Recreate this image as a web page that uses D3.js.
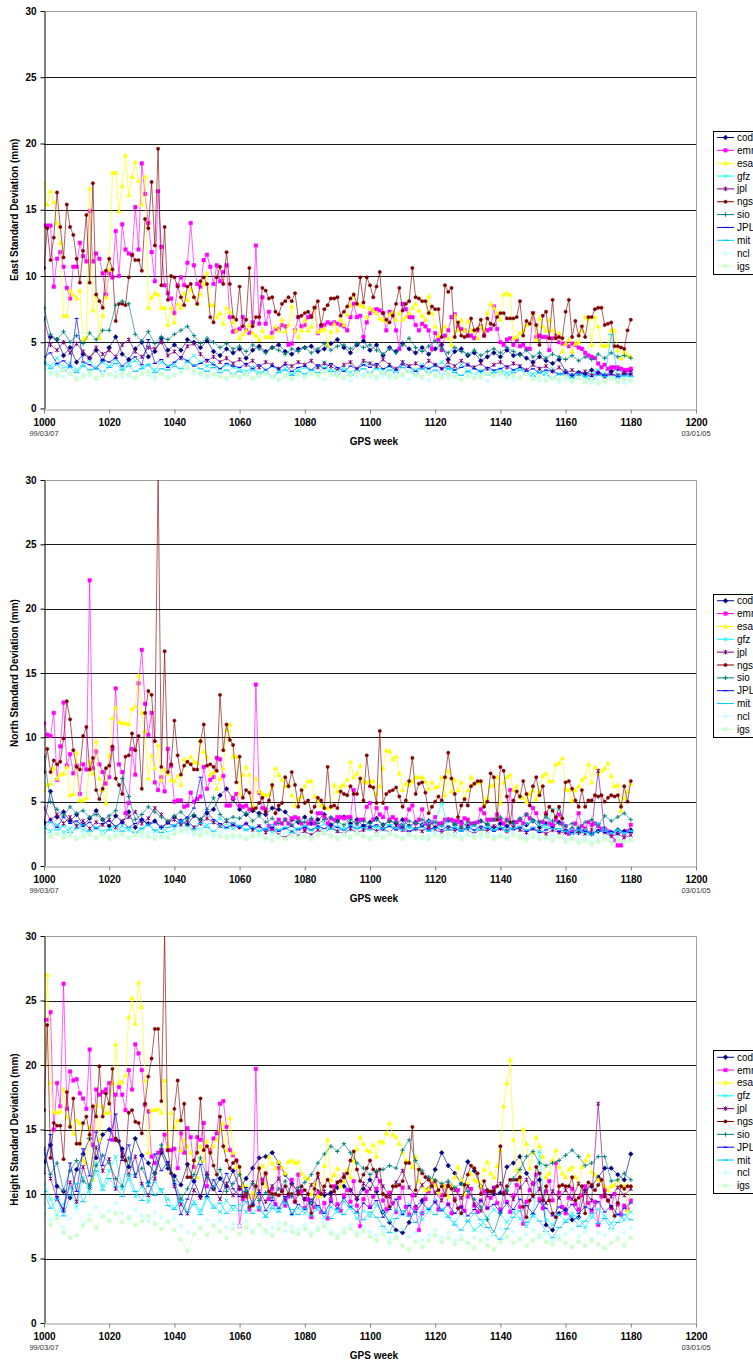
<!DOCTYPE html>
<html>
<head>
<meta charset="utf-8">
<script src="https://cdn.jsdelivr.net/npm/d3@7"></script>
<style>
  body { margin: 0; background: #fff; }
  text { font-family: "Liberation Sans", Arial, sans-serif; }
</style>
</head>
<body>
<svg id="chart" width="753" height="1360"></svg>
<script>
// series, in legend order
const seriesNames = ["cod", "emr", "esa", "gfz", "jpl", "ngs", "sio", "JPL", "mit", "ncl", "igs"];
const seriesColors = ["#000080", "#ff00ff", "#ffff00", "#00ffff", "#800080", "#800000", "#008080", "#0000ff", "#00ccff", "#ccffff", "#ccffcc"];
const seriesMarkers = ["diamond", "square", "triangle", "x", "star", "circle", "plus", "dash", "longdash", "diamond", "square"];

const yTickValues = [0, 5, 10, 15, 20, 25, 30];
const xTickValues = [1000, 1020, 1040, 1060, 1080, 1100, 1120, 1140, 1160, 1180, 1200];
const dateLabels = ["99/03/07", "03/01/05"];
const dateWeeks = [1000, 1200];
const panelTitles = ["East Standard Deviation (mm)", "North Standard Deviation (mm)", "Height Standard Deviation (mm)"];
const xTitle = "GPS week";

// weekly series cover weeks 1000..1180, the others every second week
const weeksWeekly = d3.range(1000, 1181);
const weeksBiweekly = d3.range(1000, 1181, 2);

// ---------- East ----------
const eastCod = [3.3,5.4,5.2,4.0,4.6,3.5,4.1,3.8,4.4,3.6, 4.6,5.4,4.1,3.7,4.5,5.0,3.9,4.3,5.3,4.4, 4.8,4.4,5.2,5.0,4.6,5.1,4.3,4.0,4.5,4.2, 4.5,3.8,4.4,4.7,4.3,4.6,4.8,4.3,4.1,4.5, 4.6,4.7,4.3,4.5,4.9,5.2,4.6,4.2,4.8,5.1, 4.4,4.8,4.0,4.6,4.3,4.9,4.5,4.2,4.6,4.1, 4.5,4.8,3.7,4.3,4.5,4.0,4.2,3.6,3.9,4.2, 3.9,4.4,4.0,4.1,3.8,3.5,3.9,3.6,3.4,3.7, 2.8,2.5,2.7,2.6,2.9,2.7,2.5,2.8,3.0,2.6, 2.9];
const eastEmr = [13.8,13.8,13.8,9.2,11.3,11.8,10.7,9.1,8.3,10.7, 10.7,12.5,11.5,11.1,14.9,11.1,11.7,11.3,10.2,8.6, 10.2,9.9,13.4,10.0,13.9,12.0,11.7,11.6,15.2,12.0, 18.5,16.2,14.0,11.8,9.6,16.4,12.2,9.3,8.7,8.3, 7.2,9.3,9.9,9.3,11.0,14.0,10.8,9.4,9.2,11.2, 11.6,10.7,9.4,10.8,9.6,10.3,10.8,6.9,5.8,5.9, 6.0,6.9,5.9,5.7,6.5,12.3,6.4,
  8.4,6.4,7.3,5.7,6.0,6.0,6.3,6.2,4.8,4.9, 5.9,6.9,6.2,6.3,6.9,7.0,7.6,5.7,6.2,6.3, 6.5,6.4,6.5,6.4,6.3,6.2,5.9,6.9,7.9,6.9, 7.0,5.4,6.5,7.2,7.4,7.5,7.4,7.2,5.9,7.3, 7.2,5.9,4.5,7.9,7.5,6.9,6.9,6.3,5.9,6.4, 6.2,5.9,4.5,5.7,5.2,4.4,5.5,5.9,6.9,7.1, 6.2,6.0,5.9,5.5,
  5.5,5.3,5.9,6.2,5.5,5.9,6.0,7.7,6.0,5.0, 4.8,5.2,5.3,4.8,5.2,4.7,4.8,4.5,4.5,7.2, 5.4,5.5,5.4,5.4,4.4,5.3,5.5,5.0,4.9,4.9, 4.7,4.9,4.8,4.6,4.5,4.2,4.0,3.9,3.8,3.4, 3.1,3.3,3.0,3.1,3.1,3.1,3.0,2.9,2.9,3.0];
const eastEsa = [17.0,15.4,16.4,15.6,14.0,12.5,7.0,7.0,8.9,8.6, 8.3,8.9,5.2,5.3,16.6,7.4,8.6,5.3,7.0,8.4, 10.5,17.8,17.8,14.9,16.8,19.1,16.1,17.5,18.6,17.2, 15.4,17.5,7.6,8.4,8.7,8.6,7.6,7.6,6.3,7.6, 6.5,7.9,7.6,8.7,8.2,9.0,8.4,7.9,8.6,9.4, 10.2,7.8,7.8,6.9,7.2,6.4,7.6,7.3,6.5,5.9,
  5.3,5.6,5.9,6.3,5.7,5.5,5.2,5.9,5.4,5.4, 5.4,6.2,5.9,6.7,5.8,6.3,7.7,5.9,5.4,5.9, 6.7,5.9,6.2,7.6,5.8,5.9,6.0,4.8,5.8,6.4, 5.9,6.7,6.3,7.1,7.8,8.6,7.9,7.8,7.7,6.9, 7.6,7.4,7.2,6.8,6.7,6.6,7.1,7.3,6.7,7.2, 6.7,6.9,7.2,7.6,7.9,7.4,7.0,6.7,8.5,7.2, 6.2,5.5,5.9,6.2,5.3,4.8,7.0,5.9,6.7,5.9, 6.6,
  5.9,
  5.9,5.3,6.2,5.9,7.2,7.9,7.6,7.2,6.7,8.6, 8.7,8.6,5.3,5.4,5.7,5.9,6.3,6.4,7.2,5.2, 6.8,6.2,5.9,6.7,5.9,5.3,5.7,4.3,4.9,5.2, 4.3,4.9,5.0,5.9,6.9,6.8,4.8,6.9,6.2,4.8, 4.7,4.8,5.9,5.9,4.4,3.8,4.3,4.0,3.9];
const eastGfz = [3.6,3.2,3.8,3.0,3.4,2.9,3.3,3.6,3.1,3.5, 3.2,3.7,3.0,3.4,3.6,3.1,3.3,2.9,3.5,3.2, 3.4,3.8,3.6,4.0,3.5,3.2,3.4,3.0,3.3,3.1, 3.0,2.8,3.1,2.7,2.9,3.2,2.8,3.0,2.6,2.9, 3.1,2.8,3.2,3.5,3.0,2.8,3.1,2.7,3.0,3.3, 3.4,3.1,2.9,3.2,2.8,3.5,3.2,2.9,3.3,3.0, 3.2,3.5,3.0,2.9,3.3,2.8,3.1,2.7,3.0,2.8, 3.0,2.7,2.9,3.1,2.8,2.6,2.9,2.7,3.0,2.6, 2.8,2.5,2.7,2.4,2.6,2.9,2.5,2.3,2.6,2.4, 2.5];
const eastJpl = [6.8,4.8,4.4,5.0,4.2,4.9,4.3,3.8,4.6,4.1, 4.4,3.9,4.8,5.2,4.3,3.9,4.6,4.5,5.0,4.0, 4.3,3.8,4.7,4.9,4.1,3.6,3.9,3.5,3.8,3.4, 3.7,3.3,3.6,3.1,3.5,3.3,3.0,3.4,3.2,3.5, 3.3,3.6,3.1,3.4,3.2,2.9,3.3,3.5,3.0,3.6, 3.4,3.2,3.7,3.3,3.0,3.5,3.2,3.4,3.1,3.6, 3.3,3.0,3.5,3.2,3.6,3.3,3.1,3.4,3.0,3.3, 3.5,3.1,3.4,3.2,2.9,3.3,3.0,3.2,2.8,3.1, 2.7,2.9,2.6,2.8,2.5,2.7,2.4,2.6,2.5,2.7, 2.6];
const eastNgs = [10.6,13.6,11.2,12.9,16.3,13.7,11.4,15.4,13.7,13.1, 11.3,9.5,11.9,14.6,9.5,17.0,8.6,8.1,7.6,10.4, 11.3,10.5,6.6,7.9,7.9,7.8,9.9,11.6,11.2,11.2, 10.4,14.3,13.6,17.1,12.3,19.6,
  9.3,13.7,8.2,10.0,9.9,9.2,8.4,7.8,9.2,9.4, 8.4,7.9,9.6,9.9,9.4,6.9,6.5,9.9,10.7,9.4, 11.8,9.4,6.9,6.7,
  9.2,6.2,6.7,10.6,6.2,6.9,6.9,9.1,8.9,8.3, 8.4,7.3,7.1,7.9,8.1,8.4,8.1,8.7,6.9,7.0, 7.2,7.3,6.9,7.6,8.1,6.3,7.5,7.8,8.3,8.3, 8.4,7.0,7.3,7.7,8.3,8.6,7.9,9.9,8.0,9.9, 9.3,8.4,9.2,10.3,7.2,6.7,6.5,7.0,7.9,9.1, 7.4,7.9,8.1,10.6,8.4,8.3,8.1,8.1,7.2,7.7, 7.5,7.5,5.4,9.3,8.8,9.1,5.4,6.5,5.5,5.4, 5.5,
  6.8,5.9,6.0,6.7,5.5,6.8,6.4,6.3,6.9,7.2, 7.2,6.8,6.8,6.8,6.9,8.1,5.5,6.6,6.4,7.2, 6.3,4.8,7.0,7.3,5.3,8.2,5.3,5.4,5.3,7.3, 8.2,5.4,6.6,5.5,6.2,5.4,6.9,6.9,7.5,7.6, 7.6,6.3,6.4,6.5,4.7,4.7,4.6,4.5,5.9,6.7];
const eastSio = [7.6,5.6,5.2,5.8,5.0,5.5,4.9,5.7,5.2,5.9, 5.9,7.8,8.1,7.9,5.6,5.1,5.8,4.9,5.4,5.2, 5.6,5.9,6.2,5.5,4.9,5.3,5.0,4.6,4.9,4.5, 4.7,4.3,4.8,4.5,4.2,4.6,4.4,4.1,4.5,4.3, 4.6,4.2,4.5,4.9,4.4,4.7,4.8,4.5,4.9,4.6, 4.8,4.4,4.1,4.5,4.2,4.8,5.3,4.6,4.3,4.7, 5.1,4.5,4.2,4.6,4.3,4.1,4.4,4.0,4.3,4.5, 4.2,4.6,4.3,4.0,4.4,3.9,4.2,3.8,4.1,3.9, 3.7,4.0,3.6,3.9,3.7,4.1,3.8,4.2,3.9,4.0, 3.8];
const eastJPL = [3.9,4.2,3.4,3.6,3.2,6.8,3.5,3.3,3.0,3.7, 3.5,3.8,3.2,3.6,3.9,3.3,5.2,3.4,3.7,3.1, 3.5,3.9,3.6,3.2,3.4,3.7,3.3,3.0,3.4,3.2, 3.1,3.4,3.0,3.3,2.9,3.2,3.0,3.3,2.8,3.1, 3.2,2.9,3.3,3.0,3.4,3.1,2.8,3.2,3.0,3.3, 3.1,3.4,3.0,3.2,2.9,3.3,3.1,2.8,3.2,3.0, 3.3,3.0,3.2,2.9,3.1,3.3,3.0,2.8,3.1,2.9, 3.0,3.2,2.9,3.1,2.8,3.0,2.7,2.9,2.8,2.6, 2.7,2.5,2.8,2.6,2.4,2.7,2.5,2.6,2.4,2.5, 2.6];
const eastMit = [3.5,3.0,3.3,2.8,3.1,2.7,3.2,2.9,3.0,2.8, 3.1,3.4,2.9,3.2,2.8,3.0,3.3,2.7,3.0,2.9, 3.2,3.0,3.5,3.3,3.0,2.8,3.1,2.7,2.9,2.6, 2.8,2.5,2.9,2.6,2.8,2.4,2.7,2.9,2.5,2.8, 2.6,2.9,2.7,3.1,2.8,2.6,2.9,2.5,2.8,3.0, 2.7,3.0,2.6,2.9,2.7,3.1,2.8,2.6,3.0,2.7, 2.9,2.6,3.0,2.7,2.5,2.8,2.6,2.9,2.5,2.7, 2.8,2.5,2.7,2.9,2.6,2.4,2.7,2.5,2.3,2.6, 2.5,2.3,2.6,2.4,2.2,2.5,2.4,5.6,2.3,2.5, 2.4];
const eastNcl = [3.0,2.6,2.8,2.4,2.7,2.3,2.6,2.5,2.2,2.7, 2.5,2.8,2.4,2.6,2.3,2.7,2.5,2.2,2.6,2.4, 2.6,2.8,3.0,2.7,2.5,2.3,2.6,2.4,2.2,2.5, 2.3,2.5,2.2,2.4,2.6,2.3,2.1,2.4,2.2,2.5, 2.3,2.6,2.4,2.2,2.5,2.7,2.3,2.1,2.4,2.6, 2.4,2.2,2.5,2.3,2.6,2.4,2.2,2.5,2.3,2.1, 2.4,2.6,2.3,2.5,2.2,2.4,2.6,2.3,2.1,2.4, 2.5,2.3,2.2,2.4,2.6,2.3,2.1,2.4,2.2,2.0, 2.2,2.0,2.3,2.1,1.9,2.2,2.0,2.3,2.1,1.9, 2.1];
const eastIgs = [3.2,2.8,2.5,2.9,2.6,2.2,2.4,2.7,2.3,2.5, 2.6,2.4,2.7,2.5,2.3,2.6,2.8,2.4,2.6,2.3, 2.5,2.8,3.1,2.9,2.7,2.5,2.6,2.4,2.3,2.5, 2.4,2.6,2.3,2.5,2.7,2.4,2.2,2.5,2.3,2.6, 2.4,2.7,2.5,2.8,2.6,2.4,2.3,2.5,2.7,2.4, 2.6,2.4,2.7,2.5,2.3,2.6,2.8,2.5,2.4,2.6, 2.5,2.3,2.6,2.4,2.2,2.5,2.3,2.4,2.6,2.5, 2.7,2.4,2.5,2.3,2.6,2.2,2.4,2.1,2.3,2.2, 2.4,2.1,2.3,2.0,2.2,1.9,2.1,2.3,2.0,2.2, 2.1];

// ---------- North ----------
const northCod = [3.4,5.8,3.8,4.2,3.5,4.0,3.2,3.7,4.3,3.6, 3.1,3.9,3.4,4.2,3.0,3.6,3.3,3.5,3.0,3.4, 3.8,3.5,3.2,3.9,3.6,4.1,4.4,5.5,6.0,5.2, 4.4,4.0,4.3,4.1,4.0,4.5,4.4,4.2,3.6,3.4, 3.8,3.3,3.6,4.0,3.2,3.5,3.8,3.3,3.6,3.1, 3.4,3.7,3.2,3.5,3.3,3.6,3.1,3.4,3.2,3.5, 3.0,3.3,3.6,3.2,3.4,3.1,3.3,3.5,3.2,3.0, 3.3,3.1,3.4,3.6,3.2,3.5,3.0,3.3,3.1,3.4, 2.7,2.9,2.6,2.8,2.5,2.7,2.9,2.6,2.8,2.7, 2.8];
const northEmr = [11.1,10.2,10.1,11.9,6.7,9.3,12.7,7.8,8.7,7.2, 7.8,5.6,7.9,7.5,22.2,7.6,8.9,7.9,7.3,6.4, 6.9,9.1,13.8,7.9,7.3,4.1,4.9,9.1,7.1,14.2, 16.8,12.6,10.2,11.9,6.5,5.9,6.9,5.8,9.1,7.8, 5.0,5.1,5.1,4.6,4.7,5.7,5.0,5.2,5.4,7.7, 6.0,6.7,6.9,8.4,8.3,7.0,4.7,4.7,5.3,5.6, 4.7,4.6,4.7,4.4,4.5,14.1,5.7,4.5,4.4,
  3.1,2.9,3.3,3.6,3.3,3.6,3.3,3.7,3.8,3.7, 3.3,2.9,3.3,3.6,3.3,4.1,4.1,3.8,3.3,3.7, 3.6,3.8,3.8,3.7,3.8,3.8,5.9,3.3,3.6,3.6, 4.6,4.9,3.6,4.5,4.0,3.8,4.5,3.6,3.8,3.6, 3.1,3.2,3.6,4.4,4.7,3.3,3.6,4.4,3.3,3.1, 3.4,3.8, 3.3,3.3,3.6,3.6,3.6,3.5,3.5,3.3,3.7,3.6, 3.3,3.3,3.4,4.4,4.1,3.6,3.6,3.6,4.0,3.6, 3.3,3.6,5.9,3.2,3.4,3.6,3.3,4.0,3.7,4.5, 4.1,3.4,3.4,4.1,3.3,3.2,3.6,4.0,3.3,3.1, 2.5,2.8,3.3,4.1,3.1,2.9,3.4,3.2,3.3,3.1, 2.9,2.8,2.7,2.5,2.0,1.6,1.6,2.5,2.7,3.2];
const northEsa = [5.9,6.3,6.4,7.6,6.8,7.1,7.2,7.7,5.5,5.6, 8.8,5.1,5.1,5.3,8.1,7.2,9.7,6.8,5.9,4.9, 8.6,11.5,12.3,11.2,11.1,11.1,11.0,12.2,12.4,14.8, 11.9,10.5,6.8,8.6,7.6,9.4,6.7,7.5,7.2,6.7, 6.6,7.0,6.3,8.3,8.1,8.5,8.1,8.0,9.8,8.9, 8.5,7.1,7.3,6.0,6.8,7.6,10.6,11.0,8.5,8.5, 5.6,7.1,7.7,7.1,4.7,6.8,5.8,5.6,5.5,
  5.6,6.2,7.6,7.1,6.7,6.2,6.3,5.5,4.7,5.2, 5.4,6.2,6.6,6.6,5.4,5.1,4.7,4.6,4.5,4.6, 6.3,5.8,6.2,6.3,6.7,8.1,6.9,7.2,7.8,6.6, 6.5,6.6,6.6,5.6,6.2,7.6,9.0,8.9,8.3,8.5, 7.2,5.9,6.4,6.3,6.6,6.9,6.9,6.9,6.6,6.0, 6.5,6.1, 6.2,6.9,5.5,7.4,5.8,6.7,5.9,6.5,5.3,5.9, 6.9,6.4,6.5,6.6,4.9,5.3,6.2,6.3,6.9,4.9, 6.5,6.9,7.1,5.9,6.2,5.4,5.3,5.0,5.6,5.9, 5.2,5.8,7.0,7.2,6.6,6.6,7.9,8.0,8.4,6.0, 5.9,5.1,5.9,6.2,6.7,6.9,7.9,6.5,7.7,7.2, 7.4,7.6,8.0,7.0,6.2,6.3,4.3,5.3,5.8,6.4];
const northGfz = [3.0,2.7,3.2,2.6,2.9,3.3,2.8,2.5,3.0,2.7, 2.9,2.6,3.1,2.8,2.5,2.9,3.2,2.7,3.0,2.6, 2.9,3.3,3.6,3.0,2.8,3.2,3.4,3.7,3.3,2.9, 3.1,2.8,3.0,2.7,2.9,2.6,2.8,3.0,2.7,2.9, 3.1,2.8,3.0,3.3,2.9,2.7,3.0,2.8,3.1,2.9, 3.2,3.0,2.8,3.1,2.9,3.3,3.0,2.8,3.2,3.5, 3.4,4.9,2.9,3.1,2.8,3.0,2.7,2.9,3.1,2.8, 3.0,2.8,3.1,2.9,3.3,3.5,3.2,2.9,4.4,4.5, 2.7,2.9,2.6,2.8,2.5,2.7,2.9,2.6,2.8,2.5, 2.7];
const northJpl = [4.5,3.6,4.0,3.3,3.8,3.1,3.5,2.9,3.4,3.2, 3.6,3.0,3.5,3.8,4.2,3.3,3.7,4.5,4.0,3.4, 3.6,3.2,3.5,3.0,3.3,3.7,3.4,3.1,3.5,3.2, 3.0,3.3,2.8,3.1,2.6,2.9,2.4,2.2,2.6,2.5, 2.7,2.4,2.8,2.6,3.0,2.7,2.5,2.9,2.6,2.8, 3.0,2.7,2.9,2.6,3.1,2.8,2.6,2.9,2.7,3.0, 2.8,2.6,2.9,2.7,3.0,2.8,2.5,2.9,2.7,3.1, 2.9,2.7,3.0,2.8,2.6,2.9,2.7,2.5,2.8,2.6, 2.6,2.4,2.7,2.5,2.8,7.4,2.6,2.3,2.5,2.2, 2.4];
const northNgs = [7.3,9.1,7.3,8.2,7.9,8.1,9.9,12.8,11.4,9.0, 7.7,7.5,10.1,10.8,7.5,8.4,5.9,5.2,6.0,7.6, 7.8,9.3,6.8,6.3,5.6,8.5,8.6,10.3,9.0,10.1, 6.0,11.9,13.6,13.3,9.7,30.5,7.7,16.7,7.3,7.9, 11.3,8.6,7.1,7.8,8.1,7.9,7.5,7.5,9.7,11.0, 7.8,7.9,7.7,7.4,13.3,9.0,11.0,9.8,9.4,6.5, 8.5,5.3,5.9,5.7,4.4,4.5,4.9,5.3,4.2,
  5.1,6.3,4.1,4.7,4.9,6.9,6.2,7.3,6.3,4.6, 5.9,4.9,5.1,4.2,4.6,5.3,5.1,4.5,7.7,4.6, 4.7,4.5,5.8,5.6,5.5,6.2,5.6,5.6,6.8,5.1, 8.6,6.2,6.1,4.9,10.5,4.9,5.6,5.8,5.9,6.1, 5.4,4.6,5.1,6.6,8.4,5.6,6.4,6.5,5.7,4.1, 4.6,5.0,5.4,5.1,6.9,8.8,6.8,5.6,3.8,4.7, 5.2,4.7,6.2,6.4,6.6,6.6,4.6,5.0,7.2,6.9, 3.6,7.7,7.4,5.4,3.4,5.1,5.8,5.4,6.6,5.6, 4.7,6.2,6.9,5.5,6.2,4.0,4.6,4.3,3.8,4.6, 3.7,6.5,6.6,6.0,5.1,4.6,5.9,4.6,5.1,5.1, 5.5,5.4,5.5,5.0,5.3,5.5,5.4,5.5,4.6,6.2, 5.0,6.6];
const northSio = [8.5,5.0,4.4,3.9,4.6,4.1,4.3,3.8,4.0,3.6, 3.9,4.3,6.8,5.4,3.6,4.0,4.6,4.2,3.8,3.5, 3.9,4.2,3.7,4.0,3.6,4.4,5.3,4.0,3.6,3.8, 3.7,4.1,3.5,3.9,3.4,3.7,3.3,3.6,3.2,3.5, 3.4,3.7,3.3,3.6,3.8,3.4,3.2,3.6,3.3,3.5, 3.3,3.6,3.2,3.5,3.4,3.1,3.5,3.3,3.6,3.2, 3.4,3.1,3.5,3.3,3.0,3.4,3.2,3.5,3.3,3.6, 3.8,3.5,3.3,3.7,4.0,3.6,3.4,3.8,3.5,3.3, 3.1,3.3,3.0,3.4,3.6,3.2,3.9,3.5,3.8,4.1, 3.6];
const northJPL = [3.2,3.6,3.0,3.8,3.3,3.5,3.1,3.4,2.9,3.3, 3.5,3.1,3.4,3.0,3.3,3.6,3.2,3.4,3.0,3.3, 3.1,3.5,3.8,4.5,6.9,4.2,3.6,3.3,3.0,3.2, 3.0,3.3,2.9,3.1,2.8,3.0,2.7,2.9,3.1,2.8, 3.0,2.8,3.1,2.9,3.2,3.0,2.8,3.1,2.9,3.2, 3.0,3.2,2.9,3.1,2.8,3.0,2.7,2.9,3.1,2.8, 3.0,2.8,3.1,2.9,2.7,3.0,2.8,3.1,2.9,2.7, 2.9,3.1,2.8,3.0,2.7,2.9,2.6,2.8,3.0,2.7, 2.8,2.6,2.9,2.7,2.5,2.8,2.6,2.7,2.5,2.7, 2.6];
const northMit = [2.9,3.4,2.8,3.1,2.6,2.9,3.2,2.7,3.0,2.5, 2.8,3.1,2.7,3.0,2.6,2.9,3.2,2.8,2.6,3.0, 3.2,3.5,3.1,2.8,3.3,3.0,2.7,3.1,2.9,3.4, 3.1,2.8,3.0,2.7,2.9,3.2,2.8,3.0,2.6,2.9, 3.1,2.8,3.0,2.7,2.9,3.1,2.8,3.2,2.9,3.0, 2.8,3.1,2.9,3.2,3.0,2.8,3.1,2.9,3.0,2.7, 2.9,3.1,2.8,3.0,2.7,2.9,3.1,2.8,3.0,2.8, 3.0,2.7,2.9,3.1,2.8,3.0,2.7,3.2,2.9,2.9, 2.7,2.5,2.8,2.6,2.4,3.3,2.7,2.5,2.8,2.6, 2.7];
const northNcl = [2.7,2.4,2.6,2.3,2.5,2.2,2.6,2.4,2.1,2.5, 2.3,2.6,2.4,2.2,2.5,2.3,2.6,2.4,2.2,2.5, 2.7,2.9,2.6,2.4,2.7,2.5,2.3,2.6,2.4,2.2, 2.4,2.2,2.5,2.3,2.1,2.4,2.2,2.5,2.3,2.6, 2.4,2.2,2.5,2.7,2.4,2.2,2.5,2.3,2.6,2.4, 2.2,2.5,2.3,2.6,2.4,2.2,2.5,2.3,2.1,2.4, 2.6,2.4,2.2,2.5,2.3,2.6,2.4,2.2,2.5,2.3, 2.5,2.3,2.6,2.4,2.2,2.5,2.3,2.1,2.4,2.2, 2.1,2.3,2.0,2.2,1.9,2.1,2.3,2.0,2.2,1.9, 2.1];
const northIgs = [2.6,2.3,2.5,2.2,2.4,2.1,2.3,2.5,2.2,2.4, 2.1,2.3,2.5,2.2,2.4,2.6,2.3,2.1,2.4,2.2, 2.5,2.7,2.9,2.6,2.4,2.7,2.5,2.3,2.2,2.4, 2.3,2.1,2.3,2.5,2.2,2.0,2.3,2.1,2.4,2.2, 2.3,2.1,2.4,2.6,2.3,2.1,2.4,2.2,2.5,2.3, 2.1,2.4,2.2,2.5,2.3,2.1,2.4,2.2,2.3,2.1, 2.4,2.2,2.5,2.3,2.1,2.4,2.2,2.5,2.3,2.1, 2.3,2.1,2.4,2.2,2.0,2.3,2.1,2.2,2.0,2.3, 1.9,2.1,1.8,2.0,1.7,1.9,2.1,1.8,2.0,1.9, 2.0];

// ---------- Height ----------
const heightCod = [12.5,13.8,10.6,10.2,9.7,11.9,13.1,14.3,12.8,14.6, 15.0,14.2,13.5,12.1,14.3,13.0,12.4,11.6,13.2,12.0, 11.4,10.7,12.3,11.0,9.8,11.5,10.4,11.2,10.6,11.8, 10.4,11.2,12.0,12.8,12.9,13.2,12.4,11.5,10.8,10.2, 9.6,9.3,10.2,9.9,10.1,10.5,10.6,10.3,9.6,10.4, 11.1,10.2,8.6,7.8,7.2,7.0,7.8,9.0,9.5,10.4, 11.9,13.2,12.2,11.6,10.8,12.5,11.8,10.6,10.2,10.0, 10.1,12.1,12.4,12.9,11.6,10.8,11.1,7.6,7.2,8.5, 8.8,8.0,8.2,10.3,10.6,11.3,12.0,12.0,11.5,11.1, 13.1];
const heightEmr = [23.5,23.5,24.1,15.0,18.6,16.8,26.3,16.6,19.5,18.8, 18.9,17.8,17.4,16.6,21.2,13.8,18.1,17.7,17.9,18.1, 18.6,14.2,17.7,18.3,17.7,16.5,19.6,18.1,21.6,20.9, 19.6,16.9,16.4,12.9,12.4,13.2,13.4,14.6,13.4,13.4, 13.5,12.0,14.7,13.2,15.1,14.4,12.1,14.4,14.2,15.5, 10.6,13.4,14.3,14.7,17.0,17.2,15.2,13.4,13.0,12.6, 7.5,9.6,9.9,8.8,9.2,19.7,8.8,11.1,11.6,
  9.6,10.4,9.2,12.0,10.3,9.1,9.8,11.1,9.4,11.5, 10.2,8.9,9.6,8.2,9.0,10.1,8.6,9.3,8.1,9.5, 10.6,9.2,8.7,9.9,10.3,9.4,11.0,9.1,7.5,9.6, 10.2,9.0,9.8,10.4,11.0,9.5,8.8,10.1,9.3,8.6, 9.7,10.5,9.0,8.4,9.9,8.9,7.2,8.5,9.6,10.2, 11.0,9.4,8.8,9.9,10.6,9.2,8.5,9.6,10.3,9.0, 8.7,9.8,10.4,9.1,8.6,9.5,10.2,8.9,9.7,10.5, 9.3,8.8,10.1,9.4,8.6,9.9,10.7,9.0,7.7,9.4, 10.3,10.8,11.5,9.6,8.9,10.2,11.0,9.5,12.4,10.1, 9.0,8.5,9.7,10.4,9.2,8.8,9.9,10.6,9.3,8.7, 9.4,7.6,9.8,10.3,9.5,8.9,10.0,9.2,8.4,9.1, 8.8,9.5];
const heightEsa = [20.0,27.0,18.6,16.4,16.3,16.4,18.1,16.0,15.4,14.7, 15.7,15.5,12.6,12.4,15.2,11.1,16.9,14.2,16.8,16.3, 16.3,18.6,21.6,18.6,18.7,19.2,23.7,25.2,23.2,26.4, 24.5,18.8,13.2,16.5,16.5,16.6,16.3,18.8,13.7,16.3, 15.2,15.7,13.4,14.2,13.7,13.2,12.6,11.3,13.7,12.6, 14.1,13.2,13.7,14.2,15.0,15.5,13.4,15.9,13.2,12.1, 11.6,10.6,10.6,9.8,10.1,9.8,12.0,12.2,10.6,
  12.9,12.4,12.0,12.5,12.1,11.6,12.5,12.6,12.4,12.5, 11.6,11.3,11.2,10.0,10.8,9.8,9.9,12.2,14.2,11.1, 11.5,12.0,10.6,11.0,11.9,11.3,12.6,13.5,14.4,13.9, 13.4,13.3,13.8,12.9,14.1,14.0,14.7,15.5,14.6,14.4, 13.9,13.2,12.6,12.5,12.1,12.9,11.0,10.6,10.3,10.4, 11.1,10.7,10.1,10.8,10.6,9.8,10.7,11.3,12.1,11.1, 10.0,10.8,11.6,11.1,11.0,10.6,11.9,12.5,11.6,11.3, 12.2,13.4,16.8,18.6,20.4,14.2,11.9,11.1,15.0,13.9, 12.0,13.2,14.4,13.7,12.9,11.3,11.6,12.6,13.4,12.1, 11.6,11.3,11.9,12.1,11.3,10.8,12.1,12.6,13.0,11.7, 11.5,11.1,11.1,10.6,10.3,10.6,10.7,11.1,10.6,10.7, 8.7,10.6];
const heightGfz = [10.8,9.6,8.4,9.2,10.5,9.0,11.3,10.1,12.4,10.6, 11.8,12.9,10.4,11.2,9.8,10.6,9.4,11.0,10.2,9.6, 8.9,9.8,8.5,9.4,8.7,9.9,9.1,8.6,9.5,8.8, 9.2,8.6,9.4,8.9,8.3,9.1,8.7,9.6,8.4,8.9, 8.5,9.3,8.8,8.2,9.0,8.6,9.4,8.9,8.1,8.7, 8.3,9.1,8.6,7.9,8.8,8.4,9.2,8.5,8.0,8.7, 9.5,8.8,8.3,7.8,8.5,7.9,7.2,7.6,8.2,8.8, 8.4,7.8,8.6,8.1,7.5,8.3,13.3,8.0,7.6,8.4, 7.9,8.5,8.1,7.4,8.2,8.8,8.3,7.7,8.4,8.0, 8.6];
const heightJpl = [13.5,11.2,9.6,8.8,10.9,9.4,12.1,10.5,13.6,11.8, 12.7,10.4,13.2,11.5,12.9,10.8,9.9,11.2,13.4,12.4, 10.6,9.2,8.5,10.3,9.7,11.6,10.4,9.6,10.8,9.9, 10.5,9.8,10.9,10.2,9.4,10.6,11.2,9.5,10.8,10.1, 9.6,10.7,11.3,10.2,9.8,10.9,11.5,10.3,9.7,10.8, 10.4,11.4,10.6,9.8,10.9,11.8,10.5,9.9,10.7,11.2, 10.1,9.5,10.8,10.3,9.7,10.6,9.2,8.7,9.9,10.4, 10.8,10.1,9.6,10.5,11.1,9.8,10.4,9.3,10.2,9.7, 10.3,9.6,10.8,10.2,9.5,17.0,10.1,9.8,10.5,9.9, 10.4];
const heightNgs = [16.5,23.1,12.8,15.5,15.3,15.3,12.7,17.9,15.2,17.4, 13.9,13.9,15.5,16.0,14.6,16.8,16.0,19.9,16.0,17.8, 17.0,19.7,14.3,14.1,12.9,12.6,16.3,16.5,15.6,15.5, 14.7,17.0,19.1,20.5,22.8,22.8,17.2,30.2,13.4,11.6, 16.6,18.8,15.7,17.0,11.3,11.3,12.6,13.2,17.4,13.4, 13.7,13.2,12.2,11.5,16.0,13.7,12.6,12.0,12.4,12.6, 12.1,9.8,10.1,9.0,9.1,10.6,12.0,10.8,11.6,
  10.2,10.0,10.0,9.9,10.2,10.6,10.0,10.0,9.4,10.0, 10.6,10.3,10.0,8.5,10.4,11.6,10.0,10.6,11.1,10.6, 10.2,10.9,11.0,11.3,11.6,12.6,13.3,11.9,11.0,11.5, 12.0,12.6,11.9,11.7,11.9,10.0,9.8,9.0,10.6,10.6, 10.7,11.0,12.4,12.4,15.2,10.3,11.9,11.6,11.3,11.1, 10.6,11.0,10.3,10.6,9.9,10.6,10.4,9.5,8.9,8.5, 10.7,11.5,12.2,12.0,11.6,10.0,11.0,10.3,10.2,10.2, 10.6,13.7,10.0,10.6,11.1,11.1,11.1,11.3,9.0,8.2, 9.5,9.9,12.1,11.6,9.5,10.6,9.5,8.5,8.2,10.6, 10.7,10.6,10.6,11.3,9.5,9.7,10.6,8.5,10.9,10.7, 10.3,10.7,11.1,9.8,9.5,9.0,8.3,9.3,10.6,10.4, 10.6,10.6];
const heightSio = [13.2,11.5,12.4,10.3,11.8,12.6,11.0,10.7,12.2,13.0, 12.4,11.2,10.6,12.8,11.5,12.0,10.9,11.6,13.8,12.2, 11.0,9.6,10.4,11.5,12.8,11.3,10.5,11.9,10.2,10.8, 11.5,10.2,10.8,9.5,10.1,9.7,10.4,11.0,9.8,10.5, 10.9,11.5,12.4,13.1,13.7,13.3,13.9,13.2,12.4,12.0, 11.5,11.8,11.9,12.2,12.0,13.4,14.2,12.6,11.8,11.3, 11.1,10.8,11.0,10.5,10.8,10.2,9.6,9.0,8.0,7.0, 8.5,10.3,11.2,11.9,12.9,13.3,12.4,12.2,12.4,12.6, 13.0,13.4,12.9,12.2,12.4,12.9,12.9,11.0,11.1,11.6, 11.1];
const heightJPL = [11.6,14.6,9.8,8.6,12.4,10.2,13.5,11.4,14.8,12.2, 14.2,16.2,12.6,13.8,11.3,12.9,10.6,13.1,11.8,12.5, 10.8,8.4,9.6,10.9,12.3,9.8,11.1,10.2,11.6,10.4, 9.8,10.5,9.2,10.1,8.7,9.5,8.9,9.8,8.4,9.2, 8.8,9.6,9.1,8.5,9.4,8.9,9.7,9.0,8.6,9.3, 8.9,9.5,8.2,8.8,9.6,8.4,9.1,8.6,9.3,8.8, 9.4,8.7,9.2,8.5,9.0,8.3,8.8,9.5,8.9,9.2, 8.6,9.3,8.8,9.6,9.1,8.5,9.4,8.9,8.3,9.0, 8.7,9.2,8.5,9.0,8.8,9.4,8.6,9.1,8.4,8.9, 9.3];
const heightMit = [10.2,8.9,9.6,8.3,9.9,10.8,9.4,10.5,11.8,10.3, 11.2,10.6,9.8,11.5,10.2,9.5,10.8,9.9,10.4,9.1, 8.8,9.5,8.6,9.2,8.4,9.7,8.9,9.3,8.5,9.1, 8.7,9.4,8.5,9.0,8.2,8.9,8.6,9.3,8.8,8.4, 8.9,8.3,9.0,8.6,8.1,8.8,8.4,9.1,8.5,8.0, 8.6,8.2,7.5,7.0,8.1,8.7,8.3,7.8,8.5,8.9, 8.4,8.8,8.2,7.6,7.2,7.9,8.5,8.0,7.4,6.8, 6.5,7.3,8.2,8.7,7.8,8.4,7.9,7.1,6.6,7.4, 7.8,8.3,7.5,7.9,8.5,7.7,8.1,7.3,7.8,8.4, 8.0];
const heightNcl = [9.2,8.0,8.6,7.4,8.1,8.8,7.7,8.4,9.0,8.2, 8.7,9.3,8.5,8.0,8.8,8.3,7.9,8.6,8.2,7.8, 8.1,7.5,7.0,7.8,7.3,8.0,7.6,7.9,7.4,7.7, 7.5,7.9,7.2,7.6,7.0,7.4,7.8,7.1,7.5,7.2, 7.6,7.0,7.4,7.8,7.1,6.8,7.3,7.6,7.0,7.4, 7.1,6.8,7.2,6.5,6.9,7.3,6.7,7.0,6.4,6.8, 7.2,6.6,7.0,6.4,6.8,6.2,6.6,7.1,6.5,6.9, 7.3,6.7,7.1,6.5,6.9,7.2,6.6,7.0,6.4,6.8, 6.9,7.3,6.7,7.1,6.5,7.0,6.8,7.2,6.6,7.0, 7.4];
const heightIgs = [8.4,7.6,8.1,7.0,6.6,6.8,7.5,8.0,7.4,8.3, 7.9,8.5,7.8,8.2,7.6,7.9,8.3,7.7,7.3,7.9, 7.2,6.5,5.6,6.9,7.4,6.8,7.5,7.1,6.6,7.3, 6.9,7.4,7.0,7.6,7.2,6.8,7.3,7.7,7.1,6.9, 7.3,6.8,7.2,7.5,6.9,6.6,7.0,7.3,6.8,7.1, 6.7,6.4,6.9,6.2,6.6,6.0,5.7,6.3,5.9,6.4, 6.8,6.3,6.6,6.1,6.5,6.2,5.8,6.4,6.0,5.7, 6.3,6.7,6.2,6.5,6.0,6.4,6.8,6.3,6.1,6.5, 6.2,5.9,6.3,6.0,6.4,6.1,5.8,6.2,6.5,6.0, 6.6];

const panelSeries = [
  [eastCod, eastEmr, eastEsa, eastGfz, eastJpl, eastNgs, eastSio, eastJPL, eastMit, eastNcl, eastIgs],
  [northCod, northEmr, northEsa, northGfz, northJpl, northNgs, northSio, northJPL, northMit, northNcl, northIgs],
  [heightCod, heightEmr, heightEsa, heightGfz, heightJpl, heightNgs, heightSio, heightJPL, heightMit, heightNcl, heightIgs]
];

// ---------- layout ----------
const plotLeft = 44, plotRight = 696;
const panelBoxes = [
  { top: 11, bottom: 408.5 },
  { top: 480, bottom: 866 },
  { top: 936, bottom: 1323 }
];
const legendLeft = 713, legendRowGap = 12.85;

const svg = d3.select("#chart");
const x = d3.scaleLinear().domain([1000, 1200]).range([plotLeft, plotRight]);

const filled = new Set(["diamond", "square", "triangle", "circle"]);
function markerPath(type) {
  switch (type) {
    case "diamond": return "M0,-2.4L2.4,0L0,2.4L-2.4,0Z";
    case "square": return "M-1.8,-1.8H1.8V1.8H-1.8Z";
    case "triangle": return "M0,-2.4L2.3,1.8L-2.3,1.8Z";
    case "circle": return d3.symbol(d3.symbolCircle, 9)();
    case "x": return "M-1.8,-1.8L1.8,1.8M-1.8,1.8L1.8,-1.8";
    case "star": return "M-1.8,-1.8L1.8,1.8M-1.8,1.8L1.8,-1.8M0,-2.2V2.2";
    case "plus": return "M-2.2,0H2.2M0,-2.2V2.2";
    case "dash": return "M-2,0H2";
    case "longdash": return "M-3,0H3";
  }
}

function drawMarker(sel, type, color) {
  sel.append("path")
    .attr("d", markerPath(type))
    .attr("fill", filled.has(type) ? color : "none")
    .attr("stroke", color)
    .attr("stroke-width", filled.has(type) ? 0.4 : 1);
}

panelBoxes.forEach((box, pi) => {
  const y = d3.scaleLinear().domain([0, 30]).range([box.bottom, box.top]);
  const g = svg.append("g");

  // horizontal gridlines
  g.selectAll("line.grid")
    .data(yTickValues.filter(v => v > 0 && v < 30))
    .join("line")
    .attr("x1", plotLeft).attr("x2", plotRight)
    .attr("y1", d => Math.round(y(d)) + 0.5).attr("y2", d => Math.round(y(d)) + 0.5)
    .attr("stroke", "#1a1a1a").attr("stroke-width", 1);

  // plot area border (top and right)
  const top = Math.round(y(30)) + 0.5;
  g.append("line").attr("x1", plotLeft).attr("x2", plotRight + 0.5).attr("y1", top).attr("y2", top)
    .attr("stroke", "#a0a0a0");
  g.append("line").attr("x1", plotRight + 0.5).attr("x2", plotRight + 0.5).attr("y1", top).attr("y2", Math.round(y(0)) + 0.5)
    .attr("stroke", "#a0a0a0");

  // clip the series to the plot area
  const clipId = "clip" + pi;
  svg.append("clipPath").attr("id", clipId)
    .append("rect").attr("x", plotLeft).attr("y", y(30)).attr("width", plotRight - plotLeft).attr("height", y(0) - y(30));

  const plot = g.append("g").attr("clip-path", `url(#${clipId})`);
  panelSeries[pi].forEach((values, si) => {
    const weeks = values.length === weeksWeekly.length ? weeksWeekly : weeksBiweekly;
    const pts = values.map((v, i) => [weeks[i], v]);
    const color = seriesColors[si];
    const line = d3.line().x(d => x(d[0])).y(d => y(d[1]));
    plot.append("path")
      .datum(pts)
      .attr("d", line)
      .attr("fill", "none")
      .attr("stroke", color)
      .attr("stroke-width", 0.9)
      .attr("stroke-opacity", 0.7);
    const mk = plot.append("g").selectAll("g").data(pts).join("g")
      .attr("transform", d => `translate(${x(d[0])},${y(d[1])})`);
    drawMarker(mk, seriesMarkers[si], color);
  });

  // y axis
  const yAxis = g.append("g")
    .attr("transform", `translate(${plotLeft + 0.5},0)`)
    .call(d3.axisLeft(y).tickValues(yTickValues).tickSize(4).tickPadding(4).tickSizeOuter(0));
  yAxis.select(".domain").attr("stroke", "#000");
  yAxis.selectAll(".tick line").attr("stroke", "#000");
  yAxis.selectAll(".tick text")
    .attr("font-size", 10).attr("font-weight", "bold").attr("fill", "#000")
    .attr("font-family", "'Liberation Sans', Arial, sans-serif");

  // x axis
  const xAxis = g.append("g")
    .attr("transform", `translate(0,${Math.round(y(0)) + 0.5})`)
    .call(d3.axisBottom(x).tickValues(xTickValues).tickSize(4).tickPadding(5).tickSizeOuter(0).tickFormat(d3.format("d")));
  xAxis.select(".domain").attr("stroke", "#a0a0a0");
  xAxis.selectAll(".tick line").attr("stroke", "#808080");
  xAxis.selectAll(".tick text")
    .attr("font-size", 10).attr("font-weight", "bold").attr("fill", "#000")
    .attr("font-family", "'Liberation Sans', Arial, sans-serif");

  // date labels under the end ticks
  g.selectAll("text.date").data(dateLabels).join("text")
    .attr("x", (d, i) => x(dateWeeks[i]))
    .attr("y", box.bottom + 27)
    .attr("text-anchor", "middle")
    .attr("font-size", 7.5)
    .attr("fill", "#333")
    .text(d => d);

  // axis titles
  g.append("text")
    .attr("x", (plotLeft + plotRight) / 2 + 4)
    .attr("y", box.bottom + 36)
    .attr("text-anchor", "middle")
    .attr("font-size", 10).attr("font-weight", "bold")
    .text(xTitle);
  g.append("text")
    .attr("transform", `translate(18,${(box.top + box.bottom) / 2}) rotate(-90)`)
    .attr("text-anchor", "middle")
    .attr("font-size", 10).attr("font-weight", "bold")
    .text(panelTitles[pi]);

  // legend
  const mid = (box.top + box.bottom) / 2 - 8;
  const rowY = i => mid + (i - 5) * legendRowGap;
  g.append("rect")
    .attr("x", legendLeft + 0.5).attr("y", Math.round(rowY(0) - 7) + 0.5)
    .attr("width", 60).attr("height", Math.round(rowY(10) - rowY(0) + 14))
    .attr("fill", "#fff").attr("stroke", "#000").attr("stroke-width", 1);
  seriesNames.forEach((name, si) => {
    const ly = rowY(si);
    const row = g.append("g");
    row.append("line").attr("x1", legendLeft + 4).attr("x2", legendLeft + 21)
      .attr("y1", ly).attr("y2", ly).attr("stroke", seriesColors[si]).attr("stroke-width", 1);
    const m = row.append("g").attr("transform", `translate(${legendLeft + 12.5},${ly})`);
    drawMarker(m, seriesMarkers[si], seriesColors[si]);
    row.append("text").attr("x", legendLeft + 24).attr("y", ly).attr("dy", "0.35em")
      .attr("font-size", 10).text(name);
  });
});
</script>
</body>
</html>
